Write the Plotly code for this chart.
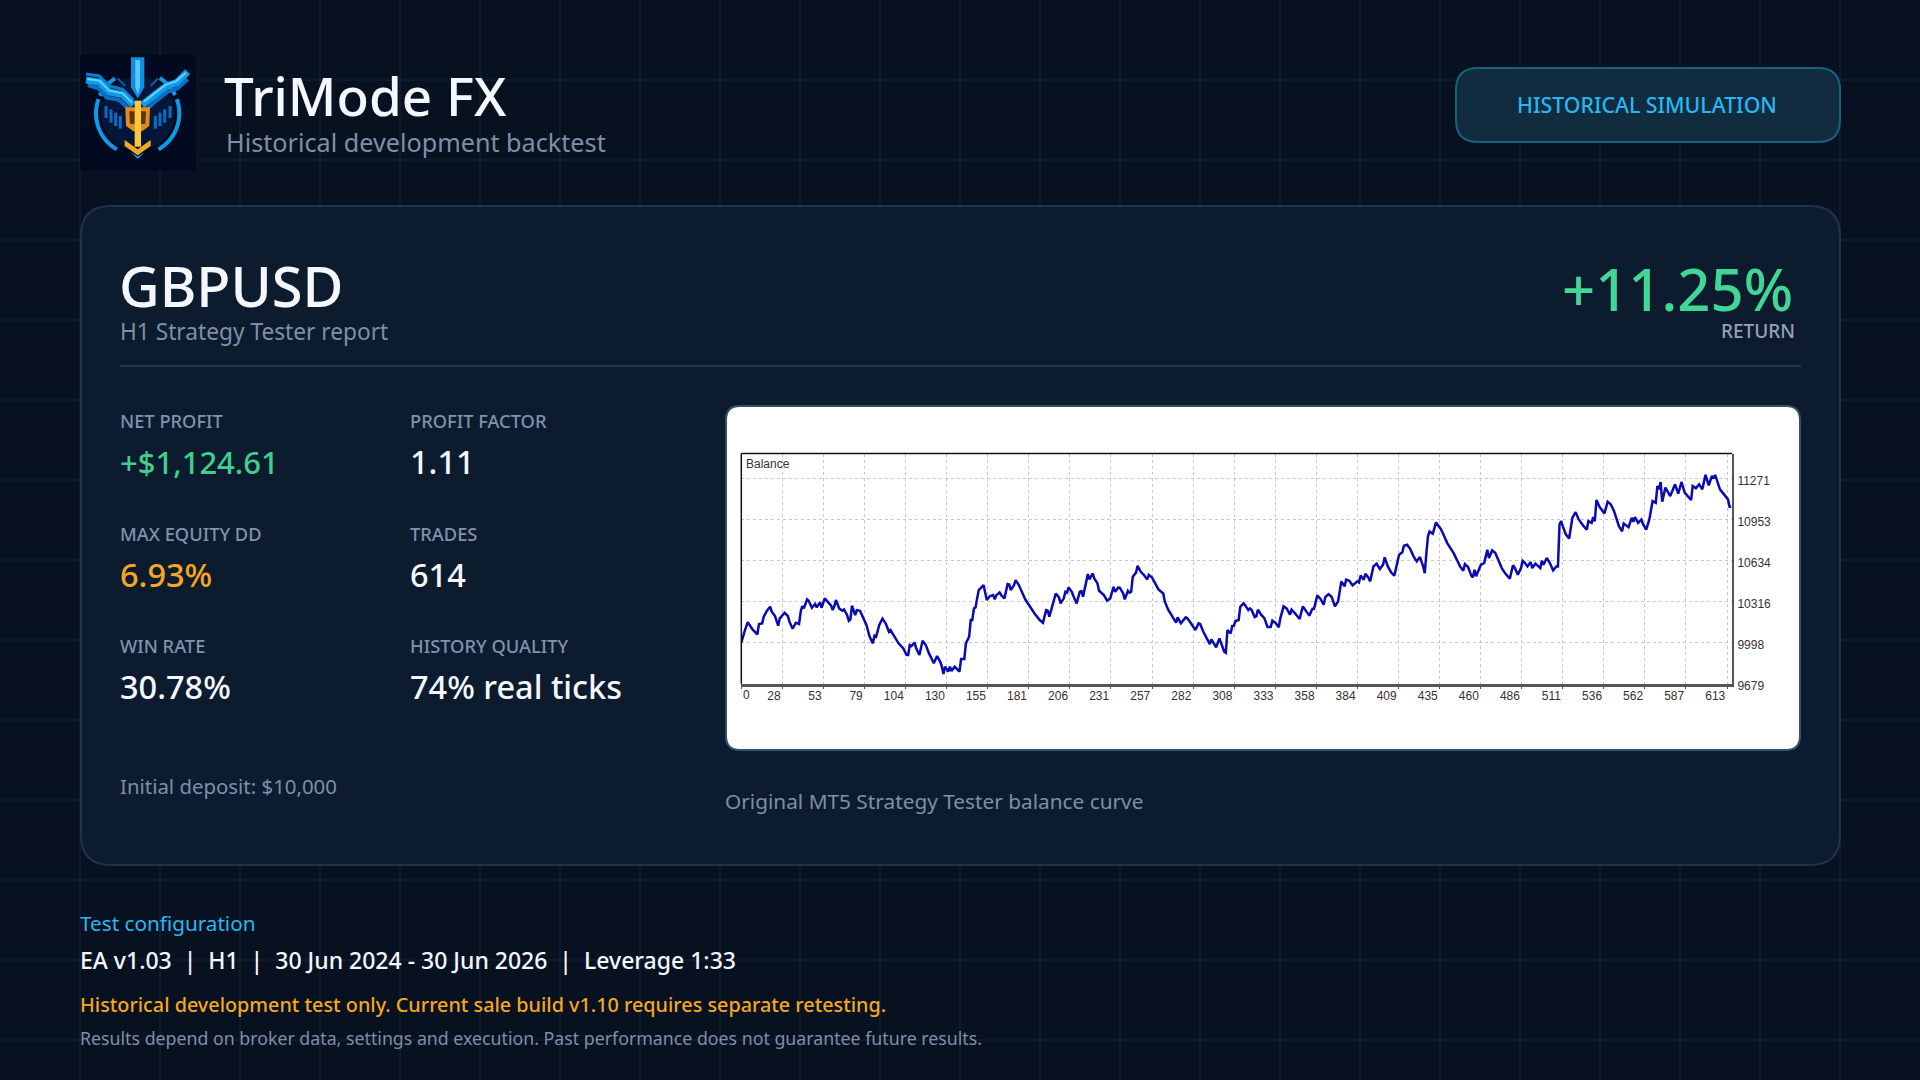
import math
import plotly.graph_objects as go

# balance curve
trades = [
    0, 1, 2, 4, 5, 7, 10, 11, 13, 14, 16, 18, 19, 21, 23, 24, 27, 29, 30, 32, 34, 36, 37, 38, 39, 41, 42, 44, 46, 47,
    49, 50, 52, 54, 56, 57, 58, 59, 61, 63, 64, 66, 67, 68, 69, 71, 72, 74, 76, 78, 80, 82, 83, 84, 86, 88, 90, 92,
    93, 95, 98, 101, 103, 104, 105, 106, 108, 109, 111, 113, 115, 117, 118, 120, 122, 124, 125, 126, 127, 129, 130,
    131, 133, 134, 136, 137, 139, 140, 142, 143, 144, 145, 146, 147, 148, 151, 153, 155, 157, 158, 159, 161,
    162, 164, 166, 167, 168, 170, 171, 173, 175, 177, 180, 183, 186, 188, 190, 191, 192, 193, 194, 196, 198, 199,
    201, 202, 203, 204, 206, 207, 209, 211, 212, 213, 214, 216, 217, 219, 220, 222, 223, 226, 228, 230, 232, 233,
    235, 236, 238, 239, 241, 242, 243, 244, 246, 247, 249, 251, 253, 254, 256, 258, 260, 263, 264, 266, 268, 271,
    272, 274, 277, 278, 281, 283, 285, 286, 288, 290, 292, 293, 294, 296, 298, 299, 301, 302, 303, 305, 306, 307,
    308, 310, 311, 313, 314, 316, 317,
    318, 320, 321, 322, 324, 326, 328, 330, 331, 333, 335, 336, 338, 340, 342, 343, 345, 348, 350, 352, 354, 356,
    357, 359, 361, 363, 364, 366, 368, 370, 372, 374, 376, 377, 379, 381, 384, 385, 386, 388, 389, 391, 392, 394,
    396, 398, 400, 401, 403, 405, 407, 410, 412, 413, 415, 417, 419, 421, 422, 423, 425, 426, 427, 428, 429, 431,
    433, 436, 438, 440, 442, 444, 446, 448, 450, 451, 453, 455, 456, 457, 458, 460, 461, 463, 465, 466, 468, 470, 472,
    474, 476, 479, 481, 482, 484, 486, 487, 488, 490, 492, 493, 495, 498, 499, 500, 502, 504, 506, 508, 509, 510,
    511, 512, 514, 516, 518, 520, 522, 525, 527, 528, 530, 531, 532, 533, 535, 538, 540, 542, 544, 547, 549, 550,
    553, 555, 556, 557, 559, 561, 562, 564, 566, 568, 570, 571, 572, 573, 574, 576, 579, 582, 584, 586, 588, 592,
    593, 595, 597, 599, 601, 603, 605, 606, 607, 610, 612, 615, 616, 617,
]
balance = [
    9998, 10044, 10083, 10158, 10135, 10101, 10062, 10143, 10148, 10199, 10246, 10277, 10238, 10205, 10130, 10187,
    10230, 10205, 10161, 10106, 10153, 10143, 10238, 10282, 10264, 10334, 10324, 10269, 10298, 10272, 10311, 10269,
    10342, 10313, 10285, 10251, 10282, 10329, 10264, 10246, 10256, 10212, 10168, 10179, 10285, 10212, 10251, 10246,
    10187, 10135, 10044, 9993, 10052, 10044, 10135, 10184, 10148, 10083, 10096, 10052, 9993, 9954, 9902, 9902, 9980,
    9972, 9998, 9954, 9902, 10013, 9980, 9915, 9889, 9838, 9894, 9850, 9812, 9755, 9812, 9773, 9812, 9778, 9812,
    9799, 9773, 9871, 9871, 9993, 10044, 10174, 10174, 10264, 10272, 10342, 10406, 10445, 10329, 10360, 10367,
    10334, 10367, 10388,
    10367, 10342, 10453, 10450, 10406, 10445, 10484, 10445, 10393, 10334, 10277, 10220, 10174, 10153, 10251, 10246,
    10199, 10256, 10290, 10380, 10349, 10303, 10342, 10393, 10386, 10427, 10393, 10360, 10303, 10393, 10398, 10355,
    10419, 10530, 10489, 10535, 10497, 10458, 10401, 10367, 10324, 10342, 10432, 10393, 10427, 10424, 10380, 10334,
    10401, 10386, 10393, 10510, 10541, 10595, 10548, 10523, 10489, 10525, 10504, 10458, 10411, 10380, 10316, 10256,
    10212, 10153, 10194, 10148, 10194, 10187, 10135, 10096, 10148, 10143, 10083, 10031, 9987, 10024, 10006, 9962,
    10031, 9998, 9928, 9920, 10096, 10070, 10127, 10127, 10166, 10174, 10277, 10303, 10290, 10251, 10264,
    10254, 10197, 10202, 10254, 10215, 10189, 10120, 10120, 10169, 10151, 10117, 10189, 10280, 10262, 10215, 10254,
    10228, 10182, 10280, 10241, 10208, 10262, 10262, 10365, 10337, 10293, 10352, 10375, 10352, 10280, 10319, 10474,
    10435, 10487, 10479, 10443, 10474, 10466, 10520, 10487, 10533, 10500, 10474, 10590, 10611, 10569, 10603, 10660,
    10590, 10544, 10518, 10680, 10699, 10750, 10758, 10724, 10668, 10629, 10647, 10662, 10590, 10538, 10693, 10823,
    10861, 10843, 10931, 10880, 10828, 10771, 10732, 10693, 10642, 10590, 10556, 10608, 10585, 10518, 10505, 10564,
    10513, 10577, 10603, 10616, 10719, 10655, 10714, 10693, 10629,
    10577, 10538, 10494, 10598, 10582, 10525, 10577, 10634, 10624, 10590, 10624, 10577, 10611, 10577, 10634, 10603,
    10655, 10616, 10559, 10590, 10590, 10915, 10941, 10902, 10837, 10806, 10967, 11011, 10954, 10902, 10876, 10941,
    10928, 10972, 10941, 11105, 11050, 11001, 11092, 11071, 11019, 10902, 10863, 10923, 10894, 10967, 10936, 10972,
    10928, 10954, 10920, 10876, 10954, 11097, 11084, 11214, 11188, 11245, 11092, 11201, 11136, 11227, 11154, 11245,
    11162, 11105, 11214, 11196, 11227, 11188, 11300, 11219, 11292, 11271, 11300, 11188, 11154, 11110, 11053, 11053,
]
x_tick_labels = ["0", "28", "53", "79", "104", "130", "155", "181", "206", "231", "257", "282", "308", "333", "358",
                 "384", "409", "435", "460", "486", "511", "536", "562", "587", "613"]
y_tick_values = [9679, 9998, 10316, 10634, 10953, 11271]

stat_labels_left = ["NET PROFIT", "MAX EQUITY DD", "WIN RATE"]
stat_values_left = ["+$1,124.61", "6.93%", "30.78%"]
stat_labels_right = ["PROFIT FACTOR", "TRADES", "HISTORY QUALITY"]
stat_values_right = ["1.11", "614", "74% real ticks"]

FONT = "Noto Sans"
BG = "#07111f"
WHITE = "#f4f7ff"
GREEN = "#3fcf8e"
AMBER = "#f5a81f"
MUTED = "#7e8fa9"
W, H = 1920, 1080


def X(px):
    return px / W


def Y(py):
    return 1 - py / H


def rounded(x0, y0, x1, y1, r):
    return (f"M {X(x0 + r)} {Y(y0)} L {X(x1 - r)} {Y(y0)} Q {X(x1)} {Y(y0)} {X(x1)} {Y(y0 + r)} "
            f"L {X(x1)} {Y(y1 - r)} Q {X(x1)} {Y(y1)} {X(x1 - r)} {Y(y1)} "
            f"L {X(x0 + r)} {Y(y1)} Q {X(x0)} {Y(y1)} {X(x0)} {Y(y1 - r)} "
            f"L {X(x0)} {Y(y0 + r)} Q {X(x0)} {Y(y0)} {X(x0 + r)} {Y(y0)} Z")


def poly(points, close=False):
    s = "M " + " L ".join(f"{X(a)} {Y(b)}" for a, b in points)
    return s + (" Z" if close else "")


def logo_pt(zx, zy):
    return 76 + zx / 3, 50 + zy / 3


def logo_path(points, close=False):
    return poly([logo_pt(a, b) for a, b in points], close)


def logo_arc(a0, a1, r=125):
    return logo_path([(185 + r * math.cos(math.radians(a)), 190 + r * math.sin(math.radians(a)))
                      for a in range(a0, a1 + 1, 4)])


shapes = []


def add_path(path, fill=None, line=None, width=0):
    shapes.append(dict(type="path", path=path, xref="paper", yref="paper", layer="below",
                       fillcolor=fill if fill else "rgba(0,0,0,0)",
                       line=dict(color=line if line else "rgba(0,0,0,0)", width=width)))


# page grid
for gx in range(80, W, 80):
    add_path(poly([(gx, 0), (gx, H)]), line="#122740", width=1)
for gy in range(80, H, 80):
    add_path(poly([(0, gy), (W, gy)]), line="#122740", width=1)

# logo
add_path(rounded(80, 55, 196, 171, 1), fill="#020a20")
add_path(logo_arc(0, 356, 110), fill="#04163a")
for a0, a1 in [(205, 238), (302, 335), (340, 420), (120, 200)]:
    add_path(logo_arc(a0, a1), line="#0a9bea", width=4)
for bar, top, bottom in [(90, 168, 204), (105, 178, 218), (119, 188, 228), (133, 198, 236),
                         (238, 198, 236), (252, 188, 228), (266, 178, 218), (282, 168, 204)]:
    add_path(logo_path([(bar, top), (bar, bottom)]), line="#0b6cc4", width=3)
add_path(logo_path([(125, 85), (148, 108)]), line="#0a5ea8", width=2)
add_path(logo_path([(246, 85), (224, 108)]), line="#0a5ea8", width=2)
add_path(logo_path([(36, 105), (68, 115), (92, 142), (130, 150), (160, 178)]), line="#0a6fc4", width=4)
add_path(logo_path([(30, 72), (70, 78), (100, 108), (140, 118), (172, 150)]), line="#0a7fd4", width=3)
add_path(logo_path([(30, 90), (70, 96), (100, 126), (140, 134), (172, 165)]), line="#0f9ae8", width=7)
add_path(logo_path([(34, 87), (70, 92), (100, 122), (140, 130), (168, 158)]), line="#5fd4ff", width=2)
add_path(logo_path([(335, 88), (305, 115), (275, 125), (245, 148), (212, 178)]), line="#0a6fc4", width=4)
add_path(logo_path([(335, 65), (302, 98), (272, 108), (240, 132), (198, 165)]), line="#0f9ae8", width=7)
add_path(logo_path([(330, 68), (300, 94), (270, 104), (238, 128), (204, 155)]), line="#5fd4ff", width=2)
add_path(logo_path([(165, 22), (205, 22), (205, 112), (185, 145), (165, 112)], True), fill="#0f8fe4")
add_path(logo_path([(178, 30), (192, 30), (192, 112), (185, 132), (178, 112)], True), fill="#56c9ff")
add_path(logo_path([(148, 172), (222, 172), (220, 228), (198, 244), (172, 244), (150, 228)], True), fill="#e08c1a")
add_path(logo_path([(160, 184), (210, 184), (208, 222), (162, 222)], True), fill="#5b3510")
add_path(logo_path([(176, 152), (195, 152), (195, 290), (176, 290)], True), fill="#ffc73d")
add_path(logo_path([(146, 270), (185, 298), (224, 270), (224, 288), (185, 316), (146, 288)], True), fill="#f4a925")
add_path(logo_path([(163, 306), (185, 320), (207, 306), (185, 326)], True), fill="#1cb4ee")

# badge
add_path(rounded(1456, 68, 1840, 142, 22), fill="#112b3f", line="#17617f", width=2)
# main panel
add_path(rounded(81, 206, 1840, 865, 30), fill="#0c1b2e", line="#1f3350", width=2)
add_path(poly([(120, 366), (1801, 366)]), line="#22344f", width=2)
# chart card
add_path(rounded(726, 406, 1800, 750, 14), fill="#ffffff", line="#31526f", width=2)

annotations = []


def text(s, x, y, size, color, anchor="left", weight=400, family=FONT):
    annotations.append(dict(text=s, x=X(x), y=Y(y), xref="paper", yref="paper", xanchor=anchor, yanchor="middle",
                            showarrow=False, borderpad=0, borderwidth=0,
                            font=dict(family=family, size=size, color=color, weight=weight)))


text("TriMode FX", 224, 95.8, 53, WHITE, weight=500)
text("Historical development backtest", 226, 142, 25.2, MUTED)
text("HISTORICAL SIMULATION", 1647, 105, 21.3, "#27b8f2", anchor="center", weight=500)
text("GBPUSD", 119, 285, 56, WHITE, weight=500)
text("H1 Strategy Tester report", 120, 332, 22.7, MUTED)
text("+11.25%", 1793, 288.5, 58, "#41d695", anchor="right", weight=500)
text("RETURN", 1795, 331, 19, "#96a2b8", anchor="right", weight=500)

value_colors = {"+$1,124.61": GREEN, "6.93%": AMBER}
for col_x, labels, values in [(120, stat_labels_left, stat_values_left), (410, stat_labels_right, stat_values_right)]:
    for row, (label, value) in enumerate(zip(labels, values)):
        text(label, col_x, 420.8 + row * 112.3, 18.3, "#8092ad", weight=500)
        text(value, col_x, 461.8 + row * 112.3, 31 if value == "+$1,124.61" else 32.5,
             value_colors.get(value, WHITE), weight=500)

text("Initial deposit: $10,000", 120, 786, 20.4, MUTED)
text("Original MT5 Strategy Tester balance curve", 725, 801, 20.8, MUTED)
text("Test configuration", 80, 923.3, 20.7, "#27b8f2")
text("EA v1.03 \u00a0|\u00a0 H1 \u00a0|\u00a0 30 Jun 2024 - 30 Jun 2026 \u00a0|\u00a0 Leverage 1:33", 80, 959.8, 23, WHITE, weight=500)
text("Historical development test only. Current sale build v1.10 requires separate retesting.", 80, 1004.8, 19.8, AMBER, weight=500)
text("Results depend on broker data, settings and execution. Past performance does not guarantee future results.", 80, 1037.8, 17.75, MUTED)
text("Balance", 746, 464, 12, "#3a3030", family="Liberation Sans")
# tick labels sit left of the grid lines, the first one is inside the frame
text(x_tick_labels[0], 743, 694.5, 12, "#3a3030", family="Liberation Sans")

x_step = 25.6
x_ticks = [i * x_step for i in range(len(x_tick_labels))]

fig = go.Figure(go.Scatter(x=trades, y=balance, mode="lines", line=dict(color="#0a0ab4", width=2.5),
                           hoverinfo="skip", showlegend=False))
fig.update_layout(
    width=W, height=H, autosize=False,
    margin=dict(l=0, r=0, t=0, b=0, pad=0),
    paper_bgcolor=BG, plot_bgcolor="rgba(0,0,0,0)",
    shapes=shapes, annotations=annotations,
    xaxis=dict(
        domain=[X(741.3), X(1732)], range=[0, 617.5], automargin=False,
        tickmode="array", tickvals=x_ticks, ticktext=[""] + x_tick_labels[1:],
        ticklabelposition="outside left", ticks="outside", ticklen=2, tickcolor="#555555",
        ticklabelstandoff=-1,
        tickfont=dict(family="Liberation Sans", size=12, color="#3a3030"),
        showgrid=True, gridcolor="#c8c8c8", gridwidth=1.4, griddash="3px,3px",
        showline=True, linecolor="#555555", linewidth=2.5, zeroline=False,
    ),
    yaxis=dict(
        domain=[Y(683.8), Y(453.5)], range=[9679, 11466], side="right", automargin=False,
        tickmode="array", tickvals=y_tick_values, ticktext=[str(v) for v in y_tick_values],
        ticks="", ticklabelshift=2, ticklabelstandoff=1,
        tickfont=dict(family="Liberation Sans", size=12, color="#3a3030"),
        showgrid=True, gridcolor="#c8c8c8", gridwidth=1.4, griddash="3px,3px",
        showline=True, linecolor="#555555", linewidth=2, zeroline=False,
    ),
)
# frame lines on the top and left are thin and black
fig.add_shape(type="line", xref="x domain", yref="y domain", x0=0, x1=1, y0=1, y1=1, line=dict(color="#111111", width=1.5))
fig.add_shape(type="line", xref="x domain", yref="y domain", x0=0, x1=0, y0=0, y1=1, line=dict(color="#111111", width=1.5))

fig.write_html("out.html", config=dict(displayModeBar=False),
               post_script="document.body.style.margin='0';document.body.style.background='" + BG + "';")
